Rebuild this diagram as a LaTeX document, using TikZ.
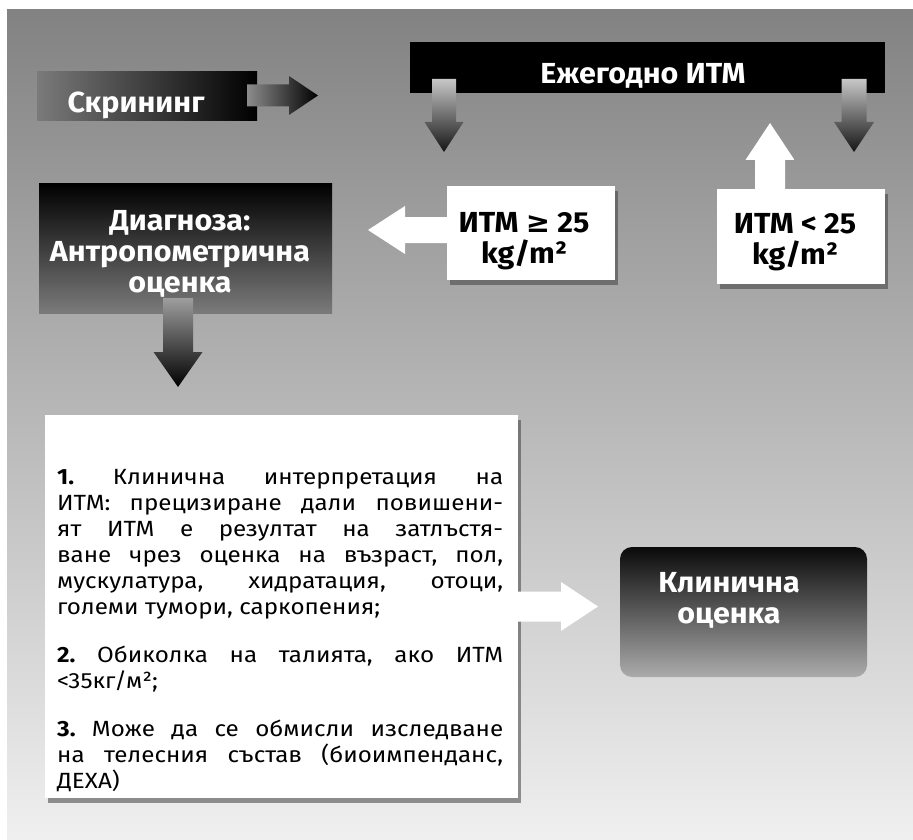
\documentclass[tikz,border=0pt]{standalone}
\usepackage{fontspec}
\setmainfont{Fira Sans}[Script=Cyrillic,Language=Bulgarian,FakeStretch=1.05]
\newfontfamily\bodyfam{Fira Sans}[Script=Cyrillic,Language=Bulgarian,FakeStretch=1.1]
\newfontfamily\symfam{DejaVu Sans}
\usetikzlibrary{shadows}

\definecolor{bgtop}{gray}{0.51}
\definecolor{bgmid}{gray}{0.70}
\definecolor{bgbot}{gray}{0.94}
\newcommand{\bodyfnt}{\bodyfam\fontsize{22}{26}\selectfont\frenchspacing\hyphenpenalty=10000\tolerance=9999}

\begin{document}
\begin{tikzpicture}[x=1pt,y=-1pt,
    box/.style={inner sep=0pt, outer sep=0pt},
    whitebox/.style={box, fill=white, drop shadow={shadow xshift=3pt, shadow yshift=-5pt, opacity=.55, fill=black!75}},
    headtxt/.style={inner sep=0pt, align=center, font=\fontsize{29}{31}\selectfont\bfseries},
    pics/arrowdown/.style n args={6}{code={\shade[top color=#5, bottom color=#6] (-#2,0) -- (-#2,{#1-#4}) -- (-#3,{#1-#4}) -- (0,#1) -- (#3,{#1-#4}) -- (#2,{#1-#4}) -- (#2,0) -- cycle;}},
    pics/arrowup/.style n args={6}{code={\shade[top color=#6, bottom color=#5] (-#2,0) -- (-#2,{#4-#1}) -- (-#3,{#4-#1}) -- (0,-#1) -- (#3,{#4-#1}) -- (#2,{#4-#1}) -- (#2,0) -- cycle;}},
    pics/arrowright/.style n args={6}{code={\shade[left color=#5, right color=#6] (0,-#2) -- ({#1-#4},-#2) -- ({#1-#4},-#3) -- (#1,0) -- ({#1-#4},#3) -- ({#1-#4},#2) -- (0,#2) -- cycle;}},
    pics/arrowleft/.style n args={6}{code={\shade[left color=#6, right color=#5] (0,-#2) -- ({#4-#1},-#2) -- ({#4-#1},-#3) -- (-#1,0) -- ({#4-#1},#3) -- ({#4-#1},#2) -- (0,#2) -- cycle;}}]
    \useasboundingbox (0,0) rectangle (913,840);
    \fill[white] (0,0) rectangle (913,840);
    \shade[top color=bgtop, middle color=bgmid, bottom color=bgbot] (7,10) rectangle (913,840);%
    \node[box, minimum width=220pt, minimum height=49pt, left color=black!52, middle color=black, right color=black] (screen) at (147,96.5) {};
    \node[box, fill=black, minimum width=475pt, minimum height=51pt] (yearly) at (647.5,67.5) {};
    \node[whitebox, minimum width=168pt, minimum height=94pt] (ge25) at (531,233) {};
    \node[whitebox, minimum width=168pt, minimum height=95pt] (lt25) at (801,236.5) {};
    \node[box, top color=black, bottom color=black!52, minimum width=293pt, minimum height=130pt] (diag) at (185.5,248) {};
    \node[whitebox, minimum width=473pt, minimum height=383pt] (notes) at (281.5,606.5) {};
    \node[box, rounded corners=12pt, top color=black!96, bottom color=black!33, minimum width=247pt, minimum height=130pt] (clin) at (743.5,612) {};%
    \pic at (247,95.5) {arrowright={71}{11}{19.5}{29}{black!45}{black}};
    \pic at (444,79) {arrowdown={73}{12}{19.5}{30}{black!22}{black!92}};
    \pic at (854,79) {arrowdown={73}{12.5}{20}{30}{black!22}{black!92}};
    \pic at (770,189) {arrowup={66}{15}{24.5}{37}{white}{white}};
    \pic at (447,230) {arrowleft={79}{13}{24}{37}{white}{white}};
    \pic at (178,298) {arrowdown={89}{15}{24.5}{35}{black!38}{black}};
    \pic at (notes.east) {arrowright={80}{15}{24.5}{37}{white}{white}};%
    \node[headtxt, text=white, anchor=base] (screentxt) at (136,113) {Скрининг};
    \node[headtxt, text=white, anchor=base] (yearlytxt) at (643,84) {Ежегодно ИТМ};
    \node[headtxt, anchor=north] (ge25txt) at (524,212) {ИТМ {\symfam\bfseries ≥} 25\\kg/m²};
    \node[headtxt, anchor=north] (lt25txt) at (795,213) {ИТМ < 25\\kg/m²};
    \node[headtxt, text=white, anchor=north] (diagtxt) at (180,210) {Диагноза:\\Антропометрична\\оценка};
    \node[headtxt, text=white, anchor=north] (clintxt) at (729,572) {Клинична\\оценка};%
    \node[inner sep=0pt, anchor=north west, text width=446pt, align=justify, font=\bodyfnt] (notestxt) at (57,469) {\textbf{1.} Клинична интерпретация на\linebreak ИТМ: прецизиране дали повишени-\linebreak ят ИТМ е резултат на затлъстя-\linebreak ване чрез оценка на възраст, пол,\linebreak мускулатура, хидратация, отоци,\linebreak големи тумори, саркопения;\\[22pt]
    \textbf{2.} Обиколка на талията, ако ИТМ\linebreak <35кг/м²;\\[22pt]
    \textbf{3.} Може да се обмисли изследване\linebreak на телесния състав (биоимпенданс,\linebreak ДЕХА)};
\end{tikzpicture}
\end{document}
